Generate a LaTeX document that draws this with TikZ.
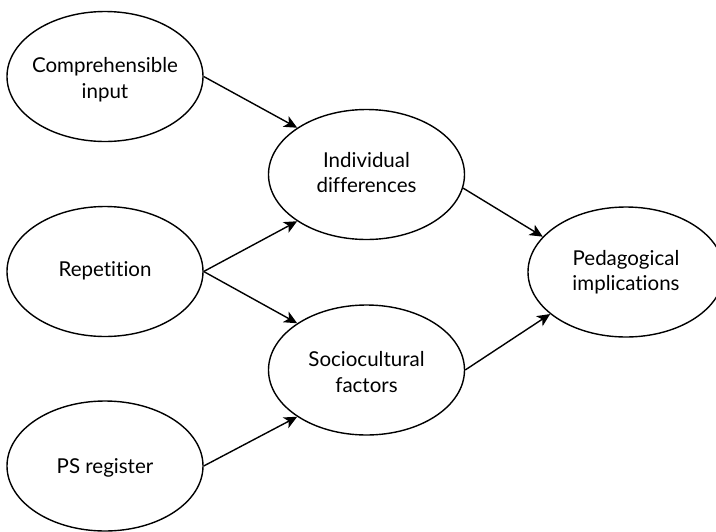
\documentclass[tikz,border=0pt]{standalone}
\usepackage{fontspec}
\setmainfont[Ligatures={NoCommon}]{Lato}
\usetikzlibrary{shapes.geometric,arrows.meta}
\begin{document}
\begin{tikzpicture}[x=1pt,y=-1pt,
  oval/.style={draw=black, line width=1.4pt, ellipse, minimum width=196pt, minimum height=130pt, inner sep=0pt},
  txt/.style={align=center, inner sep=0pt, font=\fontsize{20.5}{25.5}\selectfont},
  link/.style={draw=black, line width=1.4pt, -{Stealth[length=13pt,width=12pt,inset=3.5pt]}}]
\useasboundingbox (0,0) rectangle (716,531);
\node[oval, label={[txt, yshift=-3pt]center:{Comprehensible\\input}}] (ci) at (105,76.5) {};
\node[oval, label={[txt, yshift=1pt]center:{Repetition}}] (rep) at (105,271.5) {};
\node[oval, label={[txt, yshift=-2pt]center:{PS register}}] (ps) at (105,466) {};
\node[oval, label={[txt, yshift=2pt]center:{Individual\\differences}}] (ind) at (366.5,174.5) {};
\node[oval, label={[txt, yshift=-2pt]center:{Sociocultural\\factors}}] (soc) at (366.5,370) {};
\node[oval, label={[txt]center:{Pedagogical\\implications}}] (ped) at (626,272) {};
\draw[link] (ci.east) -- (ind.146);
\draw[link] (rep.east) -- (ind.214);
\draw[link] (rep.east) -- (soc.146);
\draw[link] (ps.east) -- (soc.214);
\draw[link] (ind.-8) -- (ped.157);
\draw[link] (soc.east) -- (ped.209);
\end{tikzpicture}
\end{document}
